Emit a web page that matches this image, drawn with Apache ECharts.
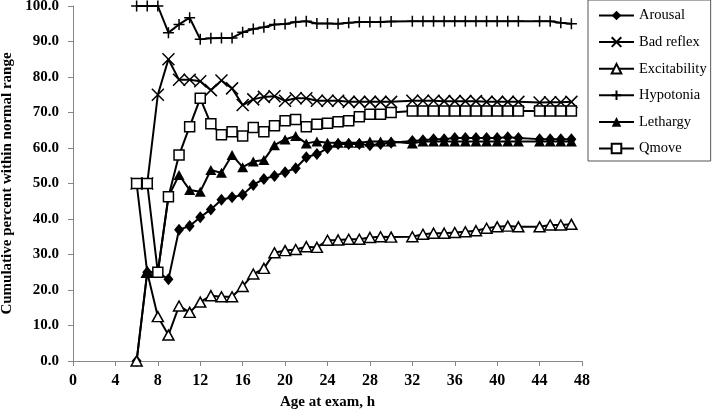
<!DOCTYPE html>
<html>
<head>
<meta charset="utf-8">
<script src="https://cdn.jsdelivr.net/npm/echarts@6/dist/echarts.min.js"></script>
<style>html,body{margin:0;padding:0;background:#fff}#c{width:714px;height:410px}</style>
</head>
<body>
<div id="c"></div>
<script>
const hours = [6,7,8,9,10,11,12,13,14,15,16,17,18,19,20,21,22,23,24,25,26,27,28,29,30,32,33,34,35,36,37,38,39,40,41,42,44,45,46,47];
const arousal = [0,25,25,23,37,38,40.5,42.7,45.4,46.1,46.8,49.6,51.3,52.1,53.2,54.3,57.4,58.3,59.9,61.1,61.1,61.1,60.8,61.1,61.5,62,62.2,62.5,62.5,62.8,62.8,62.8,62.8,62.8,63,62.8,62.5,62.5,62.5,62.5];
const badReflex = [50,50,75,85,79.2,79.2,78.8,76.3,79,76.8,72.1,73.7,74.4,74.6,73.3,74,74,73.3,73.3,73.3,73,73,73,73,73,73.3,73.3,73.3,73.2,73.2,73.2,73.2,73,73,73,73,72.8,72.9,72.9,73];
const excitability = [0,25,12.5,7.3,15.5,13.7,16.6,18.4,18.1,18.1,21,24.5,26.1,30.5,31.1,31.4,32.2,32,34,34.1,34.3,34.3,34.8,35,34.9,35,35.7,36,36,36.2,36.4,36.7,37.4,37.8,38,37.8,37.8,38.3,38.3,38.5];
const hypotonia = [100,100,100,92.5,94.8,96.7,90.6,90.9,91,91,92.6,93.5,94,94.8,94.9,95.5,95.7,95.1,95.1,95,95.3,95.5,95.5,95.5,95.6,95.7,95.7,95.7,95.7,95.7,95.7,95.7,95.7,95.7,95.7,95.7,95.7,95.7,95.3,95];
const lethargy = [50,25,25,46.3,52.4,48.2,47.7,53.8,53,58,54.6,56.2,56.6,60.8,62.4,63.4,61.3,61.8,61.5,61.5,61.5,61.5,61.8,61.8,61.8,61.3,61.8,61.8,61.8,61.8,61.8,61.8,61.8,61.8,61.8,61.8,61.8,61.8,61.8,61.8];
const qmove = [50,50,25,46.3,58,66,74,66.8,63.7,64.6,63.4,65.8,64.6,66.3,67.7,68,66,66.7,67,67.4,67.7,68.8,69.5,69.5,70,70.4,70.4,70.4,70.4,70.4,70.4,70.4,70.4,70.4,70.4,70.4,70.4,70.4,70.4,70.4];
const seriesNames = ['Arousal','Bad reflex','Excitability','Hypotonia','Lethargy','Qmove'];
const yTicks = [0,10,20,30,40,50,60,70,80,90,100];

const serif = 'Liberation Serif';
const sym = {
  'Arousal': {symbol:'diamond', size:[10,12], fill:'#000', bw:0},
  'Bad reflex': {symbol:'path://M0,0L10,10M10,0L0,10', size:12, fill:'none', bw:1.5},
  'Excitability': {symbol:'triangle', size:[11,10], fill:'#fff', bw:1.5},
  'Hypotonia': {symbol:'path://M5,0L5,10M0,5L10,5', size:11, fill:'none', bw:1.5},
  'Lethargy': {symbol:'triangle', size:[11,10], fill:'#000', bw:0},
  'Qmove': {symbol:'rect', size:10, fill:'#fff', bw:1.5}
};
const values = [arousal, badReflex, excitability, hypotonia, lethargy, qmove];
const series = seriesNames.map((n,k)=>({
  name:n, type:'line',
  data: hours.map((h,i)=>[h, values[k][i]]),
  symbol: sym[n].symbol, symbolSize: sym[n].size,
  showAllSymbol: true,
  lineStyle:{color:'#000', width:2},
  itemStyle:{color: sym[n].fill, borderColor:'#000', borderWidth: sym[n].bw},
  emphasis:{disabled:true},
  animation:false
}));

const chart = echarts.init(document.getElementById('c'), null, {renderer:'canvas'});
chart.setOption({
  animation:false,
  grid:{left:73, right:132, top:6, bottom:49, containLabel:false, outerBoundsMode:'none'},
  xAxis:{
    type:'value', min:0, max:48, interval:4,
    name:'Age at exam, h', nameLocation:'middle', nameGap:34,
    nameTextStyle:{fontFamily:serif, fontWeight:'bold', fontSize:15, color:'#000'},
    axisLine:{lineStyle:{color:'#868686', width:1}},
    axisTick:{show:true, length:5, lineStyle:{color:'#868686'}},
    axisLabel:{fontFamily:serif, fontWeight:'bold', fontSize:16, color:'#000', margin:12},
    splitLine:{show:false}
  },
  yAxis:{
    type:'value', min:yTicks[0], max:yTicks[yTicks.length-1], interval:10,
    name:'Cumulative percent within normal range', nameLocation:'middle', nameGap:48,
    nameTextStyle:{fontFamily:serif, fontWeight:'bold', fontSize:15, color:'#000'},
    axisLine:{show:true, lineStyle:{color:'#868686', width:1}},
    axisTick:{show:true, length:5, lineStyle:{color:'#868686'}},
    axisLabel:{fontFamily:serif, fontWeight:'bold', fontSize:15, color:'#000', margin:14,
      formatter:v=>v.toFixed(1)},
    splitLine:{show:false}
  },
  legend:{
    orient:'vertical', left:588, top:0,
    data: seriesNames,
    itemWidth:35, itemHeight:12,
    padding:[8,4,5,10],
    itemGap:11.6,
    borderColor:'#555', borderWidth:1,
    textStyle:{fontFamily:serif, fontSize:14.5, color:'#000'},
    selectedMode:false
  },
  series: series
});
</script>
</body>
</html>
